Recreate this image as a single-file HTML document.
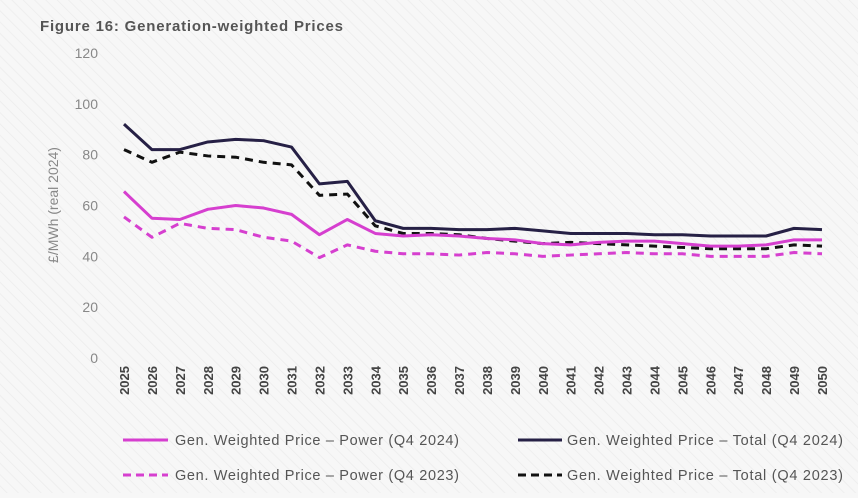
<!DOCTYPE html>
<html><head><meta charset="utf-8"><style>
body{margin:0;width:858px;height:493px;overflow:hidden;background:#f7f7f7;font-family:"Liberation Sans",sans-serif}
</style></head><body>
<svg width="858" height="493" xmlns="http://www.w3.org/2000/svg">
<defs><pattern id="hatch" width="8" height="8" patternUnits="userSpaceOnUse" patternTransform="rotate(-45)"><rect width="8" height="8" fill="#f7f7f7"/><line x1="0" y1="0" x2="0" y2="8" stroke="#ececec" stroke-width="1.5"/></pattern></defs>
<rect width="858" height="493" fill="url(#hatch)"/>
<text x="40" y="31" font-size="15" font-weight="bold" fill="#555" textLength="303" lengthAdjust="spacing">Figure 16: Generation-weighted Prices</text>
<text transform="translate(58,205) rotate(-90)" text-anchor="middle" font-size="14" fill="#888">£/MWh (real 2024)</text>
<g id="yt"></g><g id="xt"></g><g id="lines"></g>
<g font-size="14.5" fill="#555">
<g><line x1="123" y1="440" x2="168" y2="440" stroke="#d63fcf" stroke-width="3"/><text x="175" y="445" textLength="284" lengthAdjust="spacing">Gen. Weighted Price – Power (Q4 2024)</text></g>
<g><line x1="518" y1="440" x2="562" y2="440" stroke="#262045" stroke-width="3"/><text x="567" y="445" textLength="276" lengthAdjust="spacing">Gen. Weighted Price – Total (Q4 2024)</text></g>
<g><line x1="123" y1="475" x2="168" y2="475" stroke="#d63fcf" stroke-width="3" stroke-dasharray="8,5"/><text x="175" y="480" textLength="284" lengthAdjust="spacing">Gen. Weighted Price – Power (Q4 2023)</text></g>
<g><line x1="518" y1="475" x2="562" y2="475" stroke="#111" stroke-width="3" stroke-dasharray="8,5"/><text x="567" y="480" textLength="276" lengthAdjust="spacing">Gen. Weighted Price – Total (Q4 2023)</text></g>
</g>
</svg>
<script>
const years=[2025,2026,2027,2028,2029,2030,2031,2032,2033,2034,2035,2036,2037,2038,2039,2040,2041,2042,2043,2044,2045,2046,2047,2048,2049,2050];
const yTicks=[0,20,40,60,80,100,120];
const total2024=[92,82,82,85,86,85.5,83,68.5,69.5,54,51,51,50.5,50.5,51,50,49,49,49,48.5,48.5,48,48,48,51,50.5];
const total2023=[82,77,81,79.5,79,77,76,64,64.5,52,49,49,48.5,47,46,45,45.5,45,44.5,44,43.5,43,43,43,44.5,44];
const power2024=[65.5,55,54.5,58.5,60,59,56.5,48.5,54.5,49,48,48.5,48,47,46.5,45,44.5,45.5,46,46,45,44,44,44.5,46.5,46.5];
const power2023=[55.5,47.5,53,51,50.5,47.5,46,39.5,44.5,42,41,41,40.5,41.5,41,40,40.5,41,41.5,41,41,40,40,40,41.5,41];
const NS="http://www.w3.org/2000/svg";
const xS=i=>124+i*(822-124)/(years.length-1);
const yS=v=>358-v*(358-53)/120;
function mk(tag,attrs,parent){const e=document.createElementNS(NS,tag);for(const k in attrs)e.setAttribute(k,attrs[k]);parent.appendChild(e);return e;}
const yt=document.getElementById('yt'),xt=document.getElementById('xt'),lg=document.getElementById('lines');
yTicks.forEach(v=>{const t=mk('text',{x:98,y:yS(v)+5,'text-anchor':'end','font-size':14,fill:'#888'},yt);t.textContent=v;

});
years.forEach((y,i)=>{const t=mk('text',{transform:`translate(${xS(i)+5},366) rotate(-90)`,'text-anchor':'end','font-size':13,'font-weight':'bold',fill:'#444'},xt);t.textContent=y;

});
function line(data,color,dash,name){const p=mk('polyline',{points:data.map((v,i)=>xS(i)+','+yS(v)).join(' '),fill:'none',stroke:color,'stroke-width':3,'stroke-linejoin':'round'},lg);if(dash)p.setAttribute('stroke-dasharray',dash);

}
line(power2023,'#d63fcf','8,6','line-power-2023');
line(total2023,'#111','8,6','line-total-2023');
line(power2024,'#d63fcf',null,'line-power-2024');
line(total2024,'#262045',null,'line-total-2024');
</script>
</body></html>
